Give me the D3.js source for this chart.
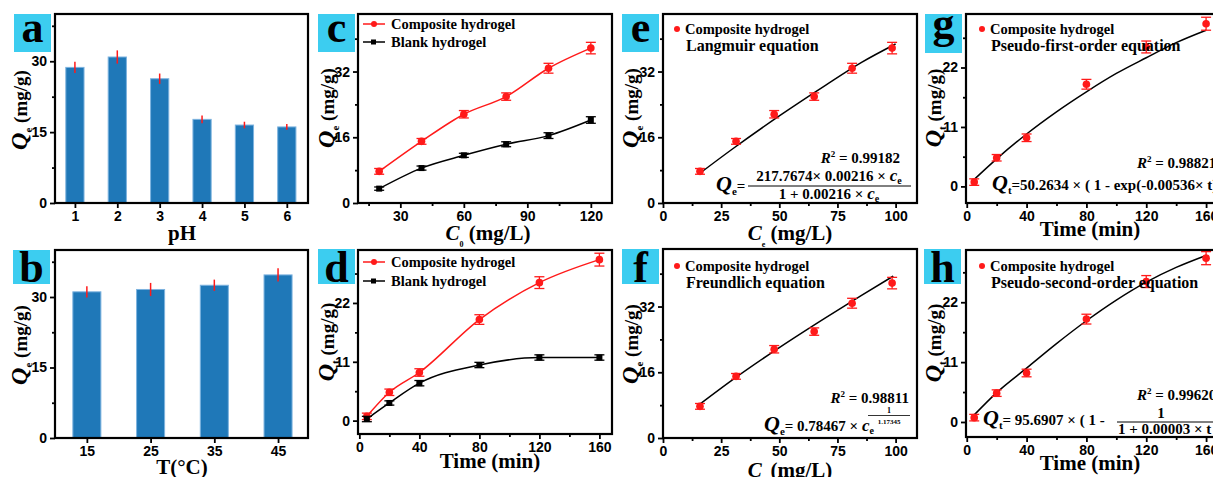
<!DOCTYPE html>
<html lang="en">
<head>
<meta charset="utf-8">
<title>Composite hydrogel adsorption</title>
<script src="https://cdn.jsdelivr.net/npm/d3@7"></script>
<style>
  body { margin: 0; background: #fff; }
</style>
</head>
<body>
<div id="chart"></div>
<script>
// ---- data ----
var phCats = [1, 2, 3, 4, 5, 6];
var phQe = [28.7, 30.9, 26.3, 17.7, 16.5, 16.1];
var phErr = [1.2, 1.4, 1.1, 0.8, 0.7, 0.6];

var tempCats = [15, 25, 35, 45];
var tempQe = [31.1, 31.6, 32.5, 34.7];
var tempErr = [1.2, 1.4, 1.2, 1.4];

var c0 = [20, 40, 60, 80, 100, 120];
var qeComposite = [7.7, 15.0, 21.6, 25.9, 32.8, 37.7];
var qeCompositeErr = [0.7, 0.7, 0.9, 0.9, 1.2, 1.4];
var qeBlank = [3.5, 8.5, 11.6, 14.3, 16.4, 20.2];
var qeBlankErr = [0.4, 0.5, 0.5, 0.6, 0.7, 0.8];

var times = [5, 20, 40, 80, 120, 160];
var qtComposite = [0.8, 5.3, 9.0, 18.9, 25.8, 30.1];
var qtCompositeErr = [0.6, 0.6, 0.7, 0.9, 1.1, 1.2];
var qtBlank = [0.3, 3.3, 7.0, 10.4, 11.8, 11.8];
var qtBlankErr = [0.5, 0.4, 0.5, 0.5, 0.5, 0.5];

var ce = [15.9, 31.4, 47.8, 65.0, 81.3, 98.5];

// fitted lines
var langmuirC = [16, 30, 50, 70, 85, 100];
var langmuirQ = [7.3, 13.2, 21.2, 28.7, 34.1, 38.7];
var freundC = [16, 30, 50, 70, 85, 99];
var freundQ = [8.3, 14.2, 22.0, 29.3, 34.6, 39.4];
var fitT = [5, 20, 40, 60, 80, 100, 120, 140, 160];
var pfoQ = [1.3, 5.1, 9.7, 13.8, 17.5, 20.9, 23.8, 26.6, 28.9];
var psoQ = [1.3, 5.4, 9.9, 14.4, 18.6, 22.4, 25.7, 28.4, 30.6];

// ticks
var qBarTicks = [0, 15, 30], qBarMinor = [7.5, 22.5, 37.5];
var qeTicks = [0, 16, 32], qeMinor = [8, 24, 40];
var qtTicks = [0, 11, 22], qtMinor = [5.5, 16.5, 27.5];
var c0Ticks = [30, 60, 90, 120], c0Minor = [15, 45, 75, 105];
var ceTicks = [0, 25, 50, 75, 100], ceMinor = [12.5, 37.5, 62.5, 87.5];
var tTicks = [0, 40, 80, 120, 160], tMinor = [20, 60, 100, 140];

var SERIF = "'Liberation Serif', 'Times New Roman', serif";
var SANS = "'Liberation Sans', Arial, sans-serif";
var RED = "#ff1a1a";

var svg = d3.select("#chart").append("svg")
    .attr("width", 1213)
    .attr("height", 477);

// 面板：坐标轴 + 外框
function panel(o) {
    var g = svg.append("g");
    var layer = g.append("g");
    var x = d3.scaleLinear().domain(o.xDomain).range([o.x0, o.x1]);
    var y = d3.scaleLinear().domain(o.yDomain).range([o.y1, o.y0]);
    var fmt = d3.format("~g");

    g.append("g").attr("transform", "translate(0," + o.y1 + ")")
        .call(d3.axisBottom(x).tickValues(o.xTicks).tickSize(5).tickPadding(3).tickFormat(fmt));
    g.append("g").attr("transform", "translate(0," + o.y1 + ")")
        .call(d3.axisBottom(x).tickValues(o.xMinor || []).tickSize(3).tickFormat(""));
    g.append("g").attr("transform", "translate(" + o.x0 + ",0)")
        .call(d3.axisLeft(y).tickValues(o.yTicks).tickSize(5).tickPadding(3).tickFormat(fmt));
    g.append("g").attr("transform", "translate(" + o.x0 + ",0)")
        .call(d3.axisLeft(y).tickValues(o.yMinor || []).tickSize(3).tickFormat(""));

    g.selectAll(".domain").remove();
    g.selectAll(".tick line").attr("stroke", "#000").attr("stroke-width", 1.8);
    g.selectAll(".tick text")
        .attr("font-family", SANS).attr("font-weight", "bold")
        .attr("font-size", o.tickSize || 14).attr("fill", "#000");

    g.append("rect")
        .attr("x", o.x0).attr("y", o.y0)
        .attr("width", o.x1 - o.x0).attr("height", o.y1 - o.y0)
        .attr("fill", "none").attr("stroke", "#000").attr("stroke-width", 2.2);

    // 字母标签
    var off = {a: 9, b: 15, c: 9, d: 15, e: 9, f: 15, g: 4, h: 15};
    g.append("rect").attr("x", o.bx).attr("y", o.by).attr("width", 37).attr("height", o.bh)
        .attr("fill", "#3ccdf0");
    g.append("text").attr("x", o.bx + 18.5).attr("y", o.by + o.bh / 2 + off[o.letter])
        .attr("text-anchor", "middle").attr("font-family", SERIF).attr("font-weight", "bold")
        .attr("font-size", 44).text(o.letter);

    return {g: g, layer: layer, x: x, y: y};
}

function yLabel(p, cx, cy, sub) {
    var t = p.g.append("text")
        .attr("transform", "translate(" + cx + "," + cy + ") rotate(-90)")
        .attr("text-anchor", "middle").attr("font-family", SERIF).attr("font-weight", "bold");
    t.append("tspan").text("Q").attr("font-style", "italic").attr("font-size", 24);
    t.append("tspan").text(sub).attr("font-size", 11).attr("dy", 5);
    t.append("tspan").text(" (mg/g)").attr("font-size", 19).attr("dy", -5);
}

function xLabel(p, cx, y, parts) {
    var t = p.g.append("text").attr("x", cx).attr("y", y)
        .attr("text-anchor", "middle").attr("font-family", SERIF).attr("font-weight", "bold")
        .attr("font-size", 21);
    parts.forEach(function (s) {
        var ts = t.append("tspan").text(s.t);
        if (s.i) ts.attr("font-style", "italic");
        if (s.sub) ts.attr("font-size", 8).attr("dy", 7);
        if (s.back) ts.attr("dy", -7);
    });
}

function bars(p, cats, vals, errs, bw) {
    p.layer.selectAll("rect.bar").data(cats).join("rect")
        .attr("class", "bar")
        .attr("x", function (d) { return p.x(d - bw / 2); })
        .attr("width", p.x(bw) - p.x(0))
        .attr("y", function (d, i) { return p.y(vals[i]); })
        .attr("height", function (d, i) { return p.y(0) - p.y(vals[i]); })
        .attr("fill", "#1f78b8").attr("stroke", "#7db3df").attr("stroke-width", 1);
    p.layer.selectAll("line.err").data(cats).join("line")
        .attr("class", "err")
        .attr("x1", function (d) { return p.x(d); }).attr("x2", function (d) { return p.x(d); })
        .attr("y1", function (d, i) { return p.y(vals[i] - errs[i]); })
        .attr("y2", function (d, i) { return p.y(vals[i] + errs[i]); })
        .attr("stroke", RED).attr("stroke-width", 1.5);
}

function curve(p, xs, ys, color) {
    var line = d3.line()
        .x(function (d, i) { return p.x(xs[i]); })
        .y(function (d) { return p.y(d); })
        .curve(d3.curveMonotoneX);
    p.layer.append("path").datum(ys).attr("d", line)
        .attr("fill", "none").attr("stroke", color).attr("stroke-width", 1.5);
}

function points(p, xs, ys, errs, color, shape) {
    var grp = p.layer.append("g");
    xs.forEach(function (xv, i) {
        var cx = p.x(xv), cy = p.y(ys[i]);
        var top = p.y(ys[i] + errs[i]), bot = p.y(ys[i] - errs[i]);
        grp.append("line").attr("x1", cx).attr("x2", cx).attr("y1", top).attr("y2", bot)
            .attr("stroke", color).attr("stroke-width", 1.3);
        [top, bot].forEach(function (yy) {
            grp.append("line").attr("x1", cx - 5).attr("x2", cx + 5).attr("y1", yy).attr("y2", yy)
                .attr("stroke", color).attr("stroke-width", 1.3);
        });
        if (shape === "square") {
            grp.append("rect").attr("x", cx - 3).attr("y", cy - 3).attr("width", 6).attr("height", 6)
                .attr("fill", "#000");
        } else {
            grp.append("circle").attr("cx", cx).attr("cy", cy).attr("r", 3.8).attr("fill", color);
        }
    });
}

function legendLine(p, x, y, label, color, shape) {
    p.g.append("line").attr("x1", x).attr("x2", x + 22).attr("y1", y).attr("y2", y)
        .attr("stroke", color).attr("stroke-width", 1.5);
    if (shape === "square") {
        p.g.append("rect").attr("x", x + 8).attr("y", y - 2.5).attr("width", 5).attr("height", 5).attr("fill", color);
    } else {
        p.g.append("circle").attr("cx", x + 11).attr("cy", y).attr("r", 3).attr("fill", color);
    }
    p.g.append("text").attr("x", x + 28).attr("y", y + 5)
        .attr("font-family", SERIF).attr("font-weight", "bold").attr("font-size", 14.5).text(label);
}

function legendDot(p, x, y, label, second) {
    p.g.append("circle").attr("cx", x).attr("cy", y).attr("r", 3).attr("fill", RED);
    p.g.append("text").attr("x", x + 8).attr("y", y + 5)
        .attr("font-family", SERIF).attr("font-weight", "bold").attr("font-size", 14.5).text(label);
    p.g.append("text").attr("x", x + 9).attr("y", y + 22)
        .attr("font-family", SERIF).attr("font-weight", "bold").attr("font-size", 16).text(second);
}

function rich(p, x, y, anchor, parts) {
    var t = p.g.append("text").attr("x", x).attr("y", y).attr("text-anchor", anchor)
        .attr("font-family", SERIF).attr("font-weight", "bold").attr("font-size", 15);
    parts.forEach(function (s) {
        var ts = t.append("tspan").text(s.t);
        if (s.i) ts.attr("font-style", "italic");
        if (s.fs) ts.attr("font-size", s.fs);
        if (s.dy) ts.attr("dy", s.dy);
    });
    return t;
}

// ---- a ----
var pa = panel({x0: 55, x1: 308, y0: 14, y1: 203, xDomain: [0.53, 6.5], yDomain: [0, 40],
    xTicks: phCats, yTicks: qBarTicks, yMinor: qBarMinor, letter: "a", bx: 14, by: 14, bh: 38});
bars(pa, phCats, phQe, phErr, 0.43);
yLabel(pa, 27, 110, "e");
xLabel(pa, 182, 240, [{t: "pH"}]);

// ---- b ----
var pb = panel({x0: 55, x1: 308, y0: 250, y1: 438, xDomain: [10, 49.7], yDomain: [0, 40],
    xTicks: tempCats, yTicks: qBarTicks, yMinor: qBarMinor, letter: "b", bx: 13, by: 250, bh: 34});
bars(pb, tempCats, tempQe, tempErr, 4.4);
yLabel(pb, 27, 345, "e");
xLabel(pb, 182, 474, [{t: "T(°C)"}]);

// ---- c ----
var pc = panel({x0: 358, x1: 612, y0: 14, y1: 203, xDomain: [10, 130], yDomain: [0, 46],
    xTicks: c0Ticks, xMinor: c0Minor, yTicks: qeTicks, yMinor: qeMinor, letter: "c", bx: 318, by: 14, bh: 38});
curve(pc, c0, qeComposite, RED);
curve(pc, c0, qeBlank, "#000");
points(pc, c0, qeComposite, qeCompositeErr, RED, "circle");
points(pc, c0, qeBlank, qeBlankErr, "#000", "square");
legendLine(pc, 363, 24, "Composite hydrogel", RED, "circle");
legendLine(pc, 363, 42, "Blank hydrogel", "#000", "square");
yLabel(pc, 334, 108, "e");
xLabel(pc, 488, 240, [{t: "C", i: true}, {t: "0", sub: true}, {t: " (mg/L)", back: true}]);

// ---- d ----
var pd = panel({x0: 358, x1: 612, y0: 250, y1: 434, xDomain: [-0.9, 168.4], yDomain: [-2.5, 31.9],
    xTicks: tTicks, xMinor: tMinor, yTicks: qtTicks, yMinor: qtMinor, letter: "d", bx: 318, by: 249, bh: 35});
curve(pd, times, qtComposite, RED);
curve(pd, times, qtBlank, "#000");
points(pd, times, qtComposite, qtCompositeErr, RED, "circle");
points(pd, times, qtBlank, qtBlankErr, "#000", "square");
legendLine(pd, 363, 262, "Composite hydrogel", RED, "circle");
legendLine(pd, 363, 281, "Blank hydrogel", "#000", "square");
yLabel(pd, 334, 342, "t");
xLabel(pd, 490, 468, [{t: "Time (min)"}]);

// ---- e ----
var pe = panel({x0: 663, x1: 917, y0: 14, y1: 203, xDomain: [0, 109.2], yDomain: [0, 46],
    xTicks: ceTicks, xMinor: ceMinor, yTicks: qeTicks, yMinor: qeMinor, letter: "e", bx: 622, by: 14, bh: 38});
curve(pe, langmuirC, langmuirQ, "#000");
points(pe, ce, qeComposite, qeCompositeErr, RED, "circle");
legendDot(pe, 677, 29, "Composite hydrogel", "Langmuir equation");
yLabel(pe, 638, 108, "e");
xLabel(pe, 790, 240, [{t: "C", i: true}, {t: "e", sub: true}, {t: " (mg/L)", back: true}]);
rich(pe, 900, 163, "end", [{t: "R", i: true}, {t: "2", fs: 9, dy: -6}, {t: " = 0.99182", dy: 6}]);
rich(pe, 716, 191, "start", [{t: "Q", i: true, fs: 22}, {t: "e", fs: 11, dy: 4}, {t: "=", dy: -4}]);
rich(pe, 829, 181, "middle", [{t: "217.7674× 0.00216 × "}, {t: "c", i: true, fs: 17}, {t: "e", fs: 10, dy: 3}]);
rich(pe, 829, 199, "middle", [{t: "1 + 0.00216 × "}, {t: "c", i: true, fs: 17}, {t: "e", fs: 10, dy: 3}]);
pe.g.append("line").attr("x1", 748).attr("x2", 911).attr("y1", 186).attr("y2", 186)
    .attr("stroke", "#000").attr("stroke-width", 1);

// ---- f ----
var pf = panel({x0: 663, x1: 917, y0: 249, y1: 438, xDomain: [0, 109.2], yDomain: [0, 46],
    xTicks: ceTicks, xMinor: ceMinor, yTicks: qeTicks, yMinor: qeMinor, letter: "f", bx: 622, by: 249, bh: 35});
curve(pf, freundC, freundQ, "#000");
points(pf, ce, qeComposite, qeCompositeErr, RED, "circle");
legendDot(pf, 677, 266, "Composite hydrogel", "Freundlich equation");
yLabel(pf, 638, 344, "e");
xLabel(pf, 790, 477, [{t: "C", i: true}, {t: "e", sub: true}, {t: " (mg/L)", back: true}]);
rich(pf, 909, 403, "end", [{t: "R", i: true}, {t: "2", fs: 9, dy: -6}, {t: " = 0.98811", dy: 6}]);
rich(pf, 764, 431, "start", [{t: "Q", i: true, fs: 22}, {t: "e", fs: 11, dy: 4}, {t: "= 0.78467 × ", dy: -4},
    {t: "c", i: true, fs: 17}, {t: "e", fs: 10, dy: 3}]);
rich(pf, 889, 413, "middle", [{t: "1", fs: 8}]);
rich(pf, 889, 424, "middle", [{t: "1.17345", fs: 7}]);
pf.g.append("line").attr("x1", 868).attr("x2", 910).attr("y1", 415.5).attr("y2", 415.5)
    .attr("stroke", "#000").attr("stroke-width", 0.8);

// ---- g ----
var pg = panel({x0: 966, x1: 1220, y0: 14, y1: 203, xDomain: [-0.5, 169.3], yDomain: [-3.07, 31.9],
    xTicks: tTicks, xMinor: tMinor, yTicks: qtTicks, yMinor: qtMinor, letter: "g", bx: 925, by: 14, bh: 39});
curve(pg, fitT, pfoQ, "#000");
points(pg, times, qtComposite, qtCompositeErr, RED, "circle");
legendDot(pg, 982, 29, "Composite hydrogel", "Pseudo-first-order equation");
yLabel(pg, 941, 108, "t");
xLabel(pg, 1090, 236, [{t: "Time (min)"}]);
rich(pg, 1137, 168, "start", [{t: "R", i: true}, {t: "2", fs: 9, dy: -6}, {t: " = 0.98821", dy: 6}]);
rich(pg, 992, 190, "start", [{t: "Q", i: true, fs: 22}, {t: "t", fs: 11, dy: 4},
    {t: "=50.2634 × ( 1 - exp(-0.00536× t)", dy: -4}]);

// ---- h ----
var ph = panel({x0: 966, x1: 1220, y0: 250, y1: 437, xDomain: [-0.5, 169.3], yDomain: [-2.76, 31.6],
    xTicks: tTicks, xMinor: tMinor, yTicks: qtTicks, yMinor: qtMinor, letter: "h", bx: 924, by: 249, bh: 35});
curve(ph, fitT, psoQ, "#000");
points(ph, times, qtComposite, qtCompositeErr, RED, "circle");
legendDot(ph, 982, 266, "Composite hydrogel", "Pseudo-second-order equation");
yLabel(ph, 941, 343, "t");
xLabel(ph, 1090, 470, [{t: "Time (min)"}]);
rich(ph, 1137, 400, "start", [{t: "R", i: true}, {t: "2", fs: 9, dy: -6}, {t: " = 0.99620", dy: 6}]);
rich(ph, 983, 425, "start", [{t: "Q", i: true, fs: 22}, {t: "t", fs: 11, dy: 4},
    {t: "= 95.6907 × ( 1 -", dy: -4}]);
rich(ph, 1161, 418, "middle", [{t: "1"}]);
rich(ph, 1118, 434, "start", [{t: "1 + 0.00003 × t ·"}]);
ph.g.append("line").attr("x1", 1117).attr("x2", 1213).attr("y1", 422).attr("y2", 422)
    .attr("stroke", "#000").attr("stroke-width", 1);
</script>
</body>
</html>
